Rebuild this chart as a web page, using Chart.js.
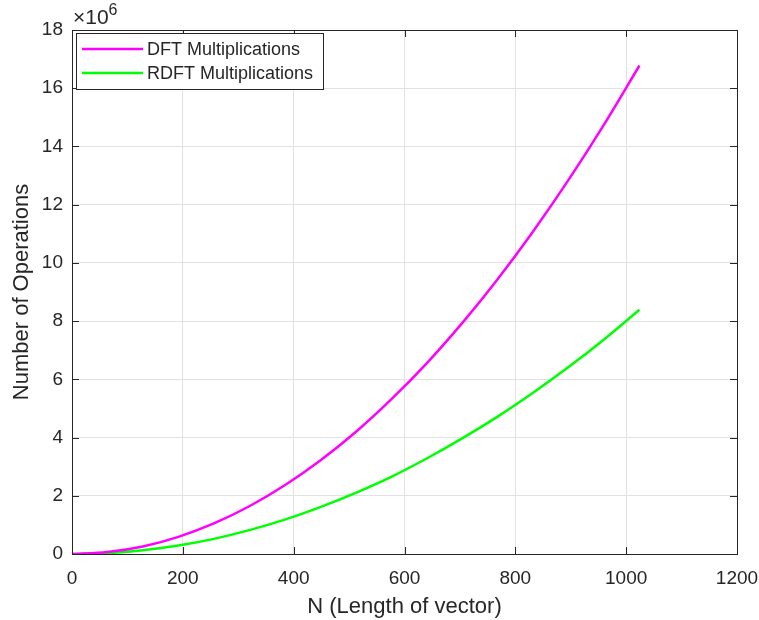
<!DOCTYPE html>
<html>
<head>
<meta charset="utf-8">
<script src="https://cdn.jsdelivr.net/npm/chart.js@4.4.1/dist/chart.umd.min.js"></script>
<style>
  html, body { margin: 0; background: #fff; }
  canvas { display: block; }
</style>
</head>
<body>
<canvas id="chart" width="759" height="620"></canvas>
<script>
// ====== Data (values in millions) ======
const lengths = [0, 64, 128, 192, 256, 320, 384, 448, 512, 576, 640, 704, 768, 832, 896, 960, 1024];
const dftMults = [0, 0.07, 0.26, 0.59, 1.05, 1.64, 2.36, 3.21, 4.19, 5.31, 6.55, 7.93, 9.44, 11.08, 12.85, 14.75, 16.78];
const rdftMults = [0, 0.03, 0.13, 0.29, 0.52, 0.82, 1.18, 1.61, 2.10, 2.65, 3.28, 3.97, 4.72, 5.54, 6.42, 7.37, 8.39];
const xTicks = [0, 200, 400, 600, 800, 1000, 1200];
const yTicks = [0, 2, 4, 6, 8, 10, 12, 14, 16, 18];
const seriesNames = ["DFT Multiplications", "RDFT Multiplications"];
const seriesColors = ["#ff00ff", "#00ff00"];

const FONT = "'Liberation Sans', Arial, Helvetica, sans-serif";
const INK = "#262626";
const GRID = "#e2e2e2";

const toPoints = (ys) => lengths.map((x, i) => ({ x, y: ys[i] }));

// ====== Frame plugin: box, inward ticks, titles, exponent, legend ======
const framePlugin = {
  id: "frame",
  afterDatasetsDraw(chart) {
    const { ctx, chartArea: a, scales } = chart;
    const xs = scales.x, ys = scales.y;
    const tl = 7;
    ctx.save();
    ctx.strokeStyle = INK;
    ctx.lineWidth = 1;
    ctx.beginPath();
    xTicks.forEach((v) => {
      const px = Math.round(xs.getPixelForValue(v)) + 0.5;
      ctx.moveTo(px, a.bottom); ctx.lineTo(px, a.bottom - tl);
      ctx.moveTo(px, a.top); ctx.lineTo(px, a.top + tl);
    });
    yTicks.forEach((v) => {
      const py = Math.round(ys.getPixelForValue(v)) + 0.5;
      ctx.moveTo(a.left, py); ctx.lineTo(a.left + tl, py);
      ctx.moveTo(a.right, py); ctx.lineTo(a.right - tl, py);
    });
    ctx.stroke();
    ctx.strokeRect(Math.round(a.left) + 0.5, Math.round(a.top) + 0.5,
      Math.round(a.right - a.left), Math.round(a.bottom - a.top));

    // axis titles
    ctx.fillStyle = INK;
    ctx.font = `22px ${FONT}`;
    ctx.textAlign = "center";
    ctx.textBaseline = "alphabetic";
    ctx.fillText("N (Length of vector)", (a.left + a.right) / 2, 613);
    ctx.save();
    ctx.translate(28, (a.top + a.bottom) / 2);
    ctx.rotate(-Math.PI / 2);
    ctx.fillText("Number of Operations", 0, 0);
    ctx.restore();

    // exponent label
    ctx.textAlign = "left";
    ctx.font = `21px ${FONT}`;
    ctx.fillText("\u00d710", 73, 24);
    const w = ctx.measureText("\u00d710").width;
    ctx.font = `16px ${FONT}`;
    ctx.fillText("6", 73 + w, 15);

    // legend
    const lx = 76, ly = 33, lw = 247, lh = 56;
    ctx.fillStyle = "#fff";
    ctx.fillRect(lx, ly, lw, lh);
    ctx.strokeStyle = INK;
    ctx.strokeRect(lx + 0.5, ly + 0.5, lw, lh);
    ctx.font = `18px ${FONT}`;
    ctx.textBaseline = "middle";
    seriesNames.forEach((name, i) => {
      const y = 49 + i * 24;
      ctx.strokeStyle = seriesColors[i];
      ctx.lineWidth = 2.5;
      ctx.beginPath();
      ctx.moveTo(82, y); ctx.lineTo(143, y);
      ctx.stroke();
      ctx.fillStyle = INK;
      ctx.fillText(name, 147, y + 1);
    });
    ctx.restore();
  },
};

new Chart(document.getElementById("chart"), {
  type: "line",
  data: {
    datasets: [
      { label: seriesNames[0], data: toPoints(dftMults), borderColor: seriesColors[0] },
      { label: seriesNames[1], data: toPoints(rdftMults), borderColor: seriesColors[1] },
    ],
  },
  options: {
    responsive: false,
    animation: false,
    layout: { padding: { top: 30, right: 22, left: 0, bottom: 0 } },
    elements: {
      point: { radius: 0 },
      line: { borderWidth: 2.5, cubicInterpolationMode: "monotone", fill: false },
    },
    plugins: { legend: { display: false }, tooltip: { enabled: false } },
    scales: {
      x: {
        type: "linear",
        min: 0,
        max: 1200,
        afterBuildTicks: (s) => { s.ticks = xTicks.map((v) => ({ value: v })); },
        afterFit: (s) => { s.height = 66; s.paddingLeft = 0; s.paddingRight = 0; },
        grid: { color: GRID, drawTicks: false },
        border: { display: false },
        ticks: { color: INK, padding: 13, maxRotation: 0, callback: (v) => String(v), font: { family: FONT, size: 19 } },
      },
      y: {
        type: "linear",
        min: 0,
        max: 18,
        afterBuildTicks: (s) => { s.ticks = yTicks.map((v) => ({ value: v })); },
        afterFit: (s) => { s.width = 72; s.paddingTop = 0; s.paddingBottom = 0; },
        grid: { color: GRID, drawTicks: false },
        border: { display: false },
        ticks: { color: INK, padding: 9, callback: (v) => String(v), font: { family: FONT, size: 19 } },
      },
    },
  },
  plugins: [framePlugin],
});
</script>
</body>
</html>
